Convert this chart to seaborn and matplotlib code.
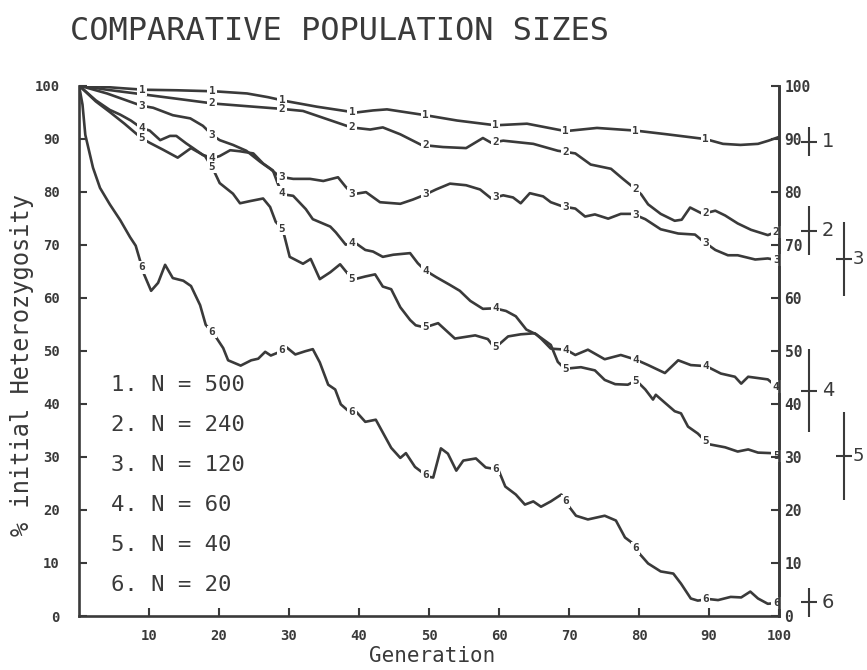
import numpy as np
import matplotlib
matplotlib.use("Agg")
import matplotlib.pyplot as plt
import seaborn as sns

# ---------------- data ----------------
pop_sizes = [500, 240, 120, 60, 40, 20]

gens1 = [0, 3, 6, 9.3, 14, 19.4, 24, 27, 29.4, 34, 39.5, 42, 44, 49.5, 54, 59.5, 64, 69.5, 74, 79.5,
         84, 89.5, 92, 94.5, 97, 98.5, 100]
het1 = [100, 99.8, 99.5, 99.2, 99.1, 98.9, 98.5, 97.8, 97.1, 96.0, 94.9, 95.3, 95.5, 94.4, 93.4, 92.5,
        92.8, 91.4, 92.0, 91.5, 90.8, 89.9, 89.0, 88.8, 89.0, 89.6, 90.3]

gens2 = [0, 4, 9.3, 14, 19.2, 24, 28.9, 32, 38.9, 41.6, 43.4, 45.9, 48.9, 52, 55.3, 57.7, 58.9, 60.6,
         64.9, 68.4, 70.9, 73.1, 76, 77.7, 79.1, 80.3, 81.3, 83.1, 85.1, 86.1, 87.3, 89.1, 90.9, 92.3,
         94.1, 96, 98.4, 100]
het2 = [100, 99.2, 98.3, 97.5, 96.6, 96.1, 95.6, 95.2, 92.1, 91.7, 92.1, 90.8, 88.8, 88.4, 88.2, 90.1,
        89.2, 89.6, 89.0, 87.7, 87.2, 85.1, 84.3, 82.4, 80.9, 79.5, 77.6, 75.8, 74.5, 74.7, 77.0, 75.8,
        76.4, 75.5, 74.0, 72.8, 71.8, 72.6]

gens3 = [0, 4, 8.9, 10.6, 13.4, 15.9, 17.7, 19.1, 20.1, 22, 23.9, 25.9, 27.3, 28.7, 30.6, 33, 34.9, 37,
         38.1, 39.1, 41, 43, 45.9, 47.7, 49.4, 51, 53, 55.3, 57.3, 58.9, 60.6, 62, 63.1, 64.4, 66.3, 67.4,
         69.1, 70.9, 72.3, 73.7, 75.6, 77.4, 79.1, 80.9, 83.1, 85.6, 88, 89.1, 90.9, 92.7, 94.1, 96.6,
         98.4, 100]
het3 = [100, 98.5, 96.2, 95.8, 94.4, 93.8, 92.4, 90.6, 89.7, 88.8, 87.7, 85.6, 84.3, 82.8, 82.4, 82.4,
        82.0, 82.7, 80.9, 79.5, 79.9, 78.0, 77.7, 78.5, 79.4, 80.4, 81.5, 81.2, 80.4, 78.7, 79.3, 78.9,
        77.8, 79.7, 79.1, 78.0, 77.2, 76.8, 75.3, 75.7, 74.9, 75.8, 75.8, 74.8, 72.9, 72.1, 71.9, 70.7,
        69.0, 68.0, 68.0, 67.2, 67.4, 67.0]

gens4 = [0, 2.4, 4.4, 5.9, 7.4, 8.9, 10.1, 11.6, 13, 13.9, 15.3, 16.3, 17.7, 19.1, 20.1, 21.6, 23, 24.9,
         26.3, 27.7, 28.4, 29.1, 30.6, 32.4, 33.4, 35.9, 36.7, 38.1, 39.4, 40.9, 42, 43.4, 44.9, 47.3,
         48.4, 49.4, 51, 53, 54.4, 55.9, 57.7, 59.4, 61, 62.4, 63.9, 65.3, 66, 67.4, 69.6, 70.9, 72.7,
         75.1, 77.4, 79.6, 81.3, 83.7, 85.6, 87.4, 89.6, 91.7, 93.7, 94.6, 95.6, 98.4, 100]
het4 = [100, 97.2, 95.4, 94.5, 93.4, 92.0, 91.5, 89.7, 90.5, 90.5, 89.1, 88.2, 86.9, 86.3, 86.7, 87.8,
        87.6, 87.2, 85.3, 84.0, 81.5, 79.5, 79.2, 76.7, 74.8, 73.4, 72.3, 70.0, 70.4, 69.0, 68.7, 67.7,
        68.1, 68.4, 66.5, 65.2, 63.9, 62.4, 61.3, 59.4, 57.9, 58.0, 57.5, 56.5, 54.0, 53.1, 52.3, 50.4,
        50.2, 49.2, 50.2, 48.4, 49.2, 48.3, 47.3, 45.8, 48.2, 47.3, 47.1, 45.7, 45.1, 43.8, 45.1, 44.6,
        42.8]

gens5 = [0, 2.4, 4.4, 6.5, 8.9, 10.1, 12, 14.1, 16, 18, 19.1, 20.1, 22, 23, 24.4, 26.3, 27.3, 28.1,
         29.1, 30.1, 32, 33.1, 34.4, 35.9, 37.3, 38.1, 39.1, 40.9, 42.3, 43.4, 44.6, 45.9, 47.3, 48.1,
         49.4, 51.3, 53.7, 56.6, 58.4, 59.4, 61.3, 63.1, 65.1, 67.4, 68.4, 69.4, 71.7, 73.7, 75.1, 76.6,
         78.4, 79.6, 80.9, 82, 82.4, 83.7, 85.1, 86, 87, 88.4, 89.9, 92.3, 94.1, 95.6, 97, 98.9, 100]
het5 = [100, 97.0, 95.0, 92.8, 90.1, 89.2, 87.9, 86.4, 88.2, 86.7, 84.4, 81.6, 79.6, 77.8, 78.2, 78.7,
        77.1, 74.3, 72.9, 67.7, 66.4, 67.3, 63.5, 64.8, 66.3, 65.0, 63.4, 64.0, 64.4, 62.1, 61.6, 58.2,
        55.8, 54.8, 54.4, 55.2, 52.3, 52.9, 52.2, 50.5, 52.7, 53.1, 53.3, 51.1, 47.9, 46.6, 46.9, 46.3,
        44.5, 43.7, 43.6, 44.4, 42.7, 40.8, 41.7, 40.2, 38.6, 38.2, 35.7, 34.4, 32.4, 31.8, 31.0, 31.4,
        30.8, 30.7, 29.9]

gens6 = [0, 0.5, 0.9, 2, 3, 4.4, 5.9, 7.3, 8.1, 9.3, 10.3, 11.3, 12.3, 13.4, 14.9, 16, 17.3, 18.1, 19.4,
         20.6, 21.3, 23.1, 24.6, 25.6, 26.6, 27.4, 28.7, 29.6, 30.9, 32.3, 33.4, 34.4, 35.6, 36.6, 37.4,
         38.7, 39.6, 40.9, 42.4, 44.6, 45.9, 46.7, 48, 48.9, 49.7, 50.6, 51.7, 52.7, 53.9, 54.9, 56.7,
         58.1, 59.9, 60.9, 62.4, 63.7, 64.9, 66, 67.4, 68.9, 69.9, 71, 72.7, 75.1, 76.7, 78, 78.9, 79.9,
         81.3, 83.1, 84.9, 86, 87.4, 88.4, 89.9, 91.3, 93.1, 94.6, 95.9, 97, 98.4, 100]
het6 = [100, 96.4, 90.7, 84.5, 80.7, 77.6, 74.6, 71.4, 69.8, 64.4, 61.3, 62.8, 66.2, 63.7, 63.2, 62.2,
        58.6, 54.9, 52.9, 50.5, 48.2, 47.2, 48.2, 48.5, 49.8, 49.1, 49.8, 50.7, 49.3, 49.9, 50.3, 47.8,
        43.6, 42.7, 39.9, 38.4, 38.5, 36.6, 37.0, 31.7, 29.8, 30.7, 28.1, 27.2, 26.3, 26.1, 31.6, 30.6,
        27.4, 29.3, 29.7, 28.0, 27.6, 24.4, 22.9, 21.0, 21.6, 20.6, 21.6, 22.9, 20.8, 18.9, 18.2, 18.9,
        18.0, 14.8, 13.9, 12.0, 9.9, 8.4, 8.0, 6.1, 3.3, 2.9, 3.2, 3.0, 3.6, 3.5, 4.6, 3.3, 2.3, 2.5]

# generations at which the curve numbers are printed
label_gens = [9, 19, 29, 39, 49.5, 59.5, 69.5, 79.5, 89.5, 99.6]
first_label = [True, False, True, True, True, True]
end_label = [False, True, True, True, True, True]

# spread bars drawn beside the right axis (centre, half-range)
spread_center = [89.4, 72.6, 67.3, 42.5, 30.1, 2.6]
spread_half = [2.7, 4.6, 6.9, 7.8, 8.3, 2.7]

x_ticks = [10, 20, 30, 40, 50, 60, 70, 80, 90, 100]
y_ticks = [0, 10, 20, 30, 40, 50, 60, 70, 80, 90, 100]

# ---------------- figure ----------------
sns.set_style("ticks")
plt.rcParams["font.family"] = ["DejaVu Sans Mono", "DejaVu Sans"]
INK = "#3a3a3a"

W, H = 867, 670
fig = plt.figure(figsize=(W / 100, H / 100), dpi=100)
ax = fig.add_axes([79 / W, 1 - 616 / H, 700 / W, 530.5 / H])

series = [(gens1, het1), (gens2, het2), (gens3, het3), (gens4, het4), (gens5, het5), (gens6, het6)]
for i, (g, h) in enumerate(series):
    sns.lineplot(x=g, y=h, ax=ax, color=INK, linewidth=1.9, estimator=None, sort=False,
                 legend=False, zorder=2)
    lg = list(label_gens)
    if not end_label[i]:
        lg = lg[:-1]
    if not first_label[i]:
        lg = lg[1:]
    for xg in lg:
        yv = float(np.interp(xg, g, h))
        ax.text(xg, yv, str(i + 1), fontsize=8, fontweight="bold", color=INK,
                ha="center", va="center", zorder=4,
                bbox=dict(boxstyle="square,pad=0.12", fc="white", ec="none"))

ax.set_xlim(0, 100)
ax.set_ylim(0, 100)
ax.set_xticks(x_ticks)
ax.set_xticklabels([str(v) for v in x_ticks], fontsize=10, fontweight="bold", color=INK)
ax.set_yticks(y_ticks)
ax.set_yticklabels([str(v) for v in y_ticks], fontsize=10, fontweight="bold", color=INK)
ax.tick_params(axis="x", direction="in", length=6, width=1.5, color=INK, pad=9)
ax.tick_params(axis="y", direction="in", length=6, width=1.5, color=INK, pad=14)
ax.set_xlabel("")
ax.set_ylabel("")
for s in ["left", "bottom", "right"]:
    ax.spines[s].set_linewidth(1.9)
    ax.spines[s].set_color(INK)
ax.spines["top"].set_visible(False)

ax2 = ax.twinx()
ax2.set_ylim(0, 100)
ax2.set_yticks(y_ticks)
ax2.set_yticklabels([str(v) for v in y_ticks], fontsize=10.5, fontweight="bold", color=INK)
ax2.tick_params(axis="y", direction="in", length=6, width=1.5, color=INK, pad=4)
for s in ["left", "bottom", "top"]:
    ax2.spines[s].set_visible(False)
ax2.spines["right"].set_linewidth(1.9)
ax2.spines["right"].set_color(INK)

# spread bars with their numbers
for i, (c, hw) in enumerate(zip(spread_center, spread_half)):
    far = i in (2, 4)
    xb = 109.3 if far else 104.3
    ax.errorbar([xb], [c], yerr=[hw], xerr=[1.1], fmt="none", ecolor=INK,
                elinewidth=1.5, capsize=0, clip_on=False, zorder=3)
    ax.text(xb + (1.25 if far else 1.8), c, str(i + 1), fontsize=13 if far else 14, color=INK,
            family="DejaVu Sans", ha="left", va="center", clip_on=False)

# key inside the plot
legend_labels = [f"{i + 1}. N = {n}" for i, n in enumerate(pop_sizes)]
for i, lab in enumerate(legend_labels):
    ax.text(4.6, 43.6 - 7.55 * i, lab, fontsize=16, color=INK, ha="left", va="center")

fig.text(70 / W, 1 - 31 / H, "COMPARATIVE POPULATION SIZES", fontsize=23, color=INK,
         ha="left", va="center")
fig.text(432 / W, 1 - 656 / H, "Generation", fontsize=15, color=INK, ha="center", va="center")
fig.text(22 / W, 1 - 365 / H, "% initial Heterozygosity", fontsize=17, color=INK,
         rotation=90, ha="center", va="center")

fig.savefig("out.png", dpi=100, facecolor="white")
